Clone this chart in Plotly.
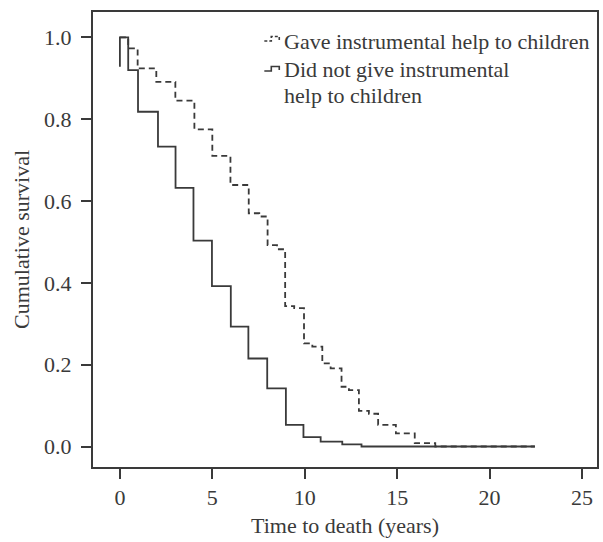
import plotly.graph_objects as go

# Kaplan-Meier survival curves (years to death)
gave_time = [0, 0.45, 0.96, 1.97, 3.0, 4.03, 5.0, 5.98, 6.97, 7.54, 7.99, 8.5, 8.94,
             9.43, 9.96, 10.41, 10.95, 11.4, 11.99, 12.39, 12.93, 13.47, 13.97,
             14.93, 15.95, 17.06, 22.45]
gave_surv = [1.0, 0.973, 0.924, 0.891, 0.845, 0.775, 0.710, 0.639, 0.570, 0.562,
             0.492, 0.482, 0.343, 0.338, 0.252, 0.244, 0.203, 0.191, 0.146, 0.138,
             0.087, 0.080, 0.053, 0.032, 0.008, 0.0, 0.0]

nogive_time = [0, 0, 0.45, 0.98, 2.06, 3.01, 3.98, 4.98, 6.0, 6.95, 7.97, 8.98,
               9.93, 10.86, 12.03, 13.07, 22.45]
nogive_surv = [0.928, 1.0, 0.920, 0.818, 0.733, 0.632, 0.503, 0.392, 0.293, 0.215,
               0.142, 0.053, 0.023, 0.012, 0.005, 0.0, 0.0]

x_ticks = [0, 5, 10, 15, 20, 25]
y_ticks = [0.0, 0.2, 0.4, 0.6, 0.8, 1.0]
y_ticktext = ["0.0", "0.2", "0.4", "0.6", "0.8", "1.0"]

legend_lines = ["Gave instrumental help to children",
                "Did not give instrumental",
                "help to children"]

INK = "#3a3a3a"
FONT = "Liberation Serif, Times New Roman, serif"
FS = 22
W, H = 603, 542
L, R, T, B = 93, 4, 12, 75

fig = go.Figure()
fig.add_trace(go.Scatter(x=gave_time, y=gave_surv, mode="lines", line_shape="hv",
                         line=dict(color=INK, width=1.8, dash="6px,4px"),
                         showlegend=False, hoverinfo="skip"))
fig.add_trace(go.Scatter(x=nogive_time, y=nogive_surv, mode="lines", line_shape="hv",
                         line=dict(color=INK, width=1.8),
                         showlegend=False, hoverinfo="skip"))


def px(xp, yp):
    """Convert page pixels to paper coordinates."""
    return (xp - L) / (W - L - R), (H - B - yp) / (H - T - B)


def step_icon(x0, ybase, dash):
    pts = [(x0, ybase), (x0 + 7, ybase), (x0 + 7, ybase - 4.5),
           (x0 + 15, ybase - 4.5), (x0 + 15, ybase - 1)]
    path = ""
    for i, (a, b) in enumerate(pts):
        u, v = px(a, b)
        path += ("M" if i == 0 else "L") + f"{u:.5f},{v:.5f} "
    fig.add_shape(type="path", path=path, xref="paper", yref="paper",
                  line=dict(color=INK, width=1.6, dash=dash))


step_icon(265, 41, "3px,2px")
step_icon(265, 71, "solid")

for label, ypix in zip(legend_lines, [41, 69, 95]):
    u, v = px(283, ypix)
    fig.add_annotation(text=label, x=u, y=v, xref="paper", yref="paper",
                       xanchor="left", yanchor="middle", showarrow=False,
                       font=dict(family=FONT, size=FS, color=INK))

fig.update_layout(
    width=W, height=H,
    margin=dict(l=L, r=R, t=T, b=B),
    paper_bgcolor="white", plot_bgcolor="white",
    font=dict(family=FONT, size=FS, color=INK),
    xaxis=dict(range=[-1.455, 25.81], tickvals=x_ticks, ticks="outside", ticklen=10,
               tickwidth=1.5, tickcolor=INK, showline=True, linecolor=INK,
               linewidth=2, mirror=True, showgrid=False, zeroline=False,
               title=dict(text="Time to death (years)", standoff=8,
                          font=dict(size=FS))),
    yaxis=dict(range=[-0.0501, 1.0618], tickvals=y_ticks, ticktext=y_ticktext,
               ticks="outside", ticklen=10, tickwidth=1.5, tickcolor=INK,
               ticklabelstandoff=5,
               showline=True, linecolor=INK, linewidth=2, mirror=True,
               showgrid=False, zeroline=False,
               title=dict(text="Cumulative survival", standoff=8,
                          font=dict(size=FS))),
)

fig.write_html("out.html")
